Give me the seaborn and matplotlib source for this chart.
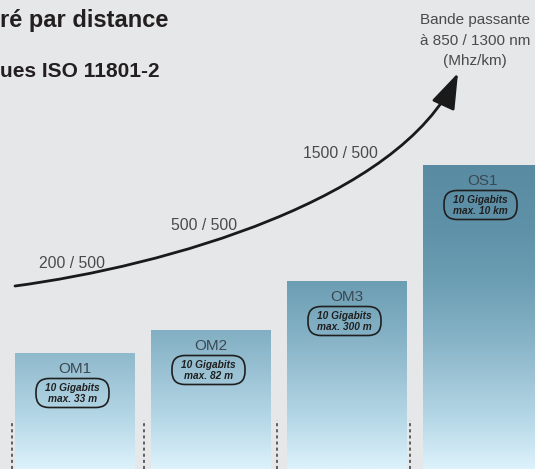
import numpy as np
import pandas as pd
import matplotlib
matplotlib.use("Agg")
import matplotlib.pyplot as plt
import seaborn as sns
from matplotlib.patches import FancyBboxPatch, FancyArrowPatch
from matplotlib.path import Path
from matplotlib.colors import LinearSegmentedColormap

# ---- data -------------------------------------------------------------
fibre_types = ["OM1", "OM2", "OM3", "OS1"]
bar_height = [116, 139, 188, 304]          # relative column height
speed_labels = ["10 Gigabits", "10 Gigabits", "10 Gigabits", "10 Gigabits"]
max_distance = ["max. 33 m", "max. 82 m", "max. 300 m", "max. 10 km"]
bandwidth_labels = ["200 / 500", "500 / 500", "1500 / 500"]
legend_lines = ["Bande passante", "à 850 / 1300 nm", "(Mhz/km)"]
title_lines = ["ré par distance", "ues ISO 11801-2"]

# ---- figure -----------------------------------------------------------
W, H = 535, 469
BG = "#e6e7e8"
sns.set_theme(style="white")
plt.rcParams["font.family"] = ["Liberation Sans", "DejaVu Sans"]

fig = plt.figure(figsize=(W / 100, H / 100), dpi=100, facecolor=BG)
ax = fig.add_axes([0, 0, 1, 1])
ax.set_facecolor(BG)

df = pd.DataFrame({"type": fibre_types, "height": bar_height})
sns.barplot(data=df, x="type", y="height", width=120 / 136,
            color="#8fb9cc", linewidth=0, ax=ax)

x_lim = (-74.5 / 136, (W - 74.5) / 136)
ax.set_xlim(*x_lim)
ax.set_ylim(0, H)

# vertical gradient fill clipped to every column
grad_cmap = LinearSegmentedColormap.from_list(
    "fibre",
    [(0.0, "#ddf2fb"), (49 / 304, "#b6d8e7"), (116 / 304, "#8fb9cc"),
     (139 / 304, "#82afc3"), (188 / 304, "#6c9eb3"), (240 / 304, "#5f92a8"),
     (1.0, "#598ba2")])
grad = np.linspace(0, 1, 256).reshape(-1, 1)
for bar in list(ax.patches):
    im = ax.imshow(grad, cmap=grad_cmap, extent=[x_lim[0], x_lim[1], 0, max(bar_height)],
                   origin="lower", aspect="auto", zorder=bar.get_zorder() + 0.1)
    im.set_clip_path(bar)

ax.set_xlim(*x_lim)
ax.set_ylim(0, H)
ax.axis("off")

# dotted separators at the foot of the columns
sep_x = [-0.46, 0.51, 1.49, 2.47]
ax.vlines(sep_x, 0, 49, colors="#3a3a3a", linestyles=(0, (2, 2)),
          linewidth=1.1, zorder=5)

# ---- overlay in pixel units for annotations ---------------------------
ov = fig.add_axes([0, 0, 1, 1])
ov.set_xlim(0, W)
ov.set_ylim(H, 0)
ov.axis("off")
ov.patch.set_alpha(0)

for i, (name, h, sp, dist) in enumerate(zip(fibre_types, bar_height,
                                            speed_labels, max_distance)):
    dx, dy = ax.transData.transform((i, h))
    cx, top = dx, H - dy
    ov.text(cx, top + 16, name, ha="center", va="center", fontsize=11,
            color="#3b4852")
    bx = cx - 2
    ov.add_patch(FancyBboxPatch((bx - 36.5, top + 40 - 14.5), 73, 29,
                                boxstyle="round,pad=0,rounding_size=13",
                                fc="none", ec="#1f1f1f", lw=1.2))
    ov.text(bx, top + 40.5, f"{sp}\n{dist}", ha="center", va="center",
            fontsize=7.3, fontweight="bold", fontstyle="italic",
            color="#1f1f1f", linespacing=1.1)

# bandwidth growth arrow
curve = Path([(15, 286), (165, 266), (400, 200), (458, 73)],
             [Path.MOVETO, Path.CURVE4, Path.CURVE4, Path.CURVE4])
ov.add_patch(FancyArrowPatch(path=curve,
                             arrowstyle="-|>,head_length=1.1,head_width=0.38",
                             mutation_scale=20, lw=2.0, color="#1a1a1a"))

for txt, (tx, ty) in zip(bandwidth_labels, [(72, 263), (204, 226), (340, 154)]):
    ov.text(tx, ty, txt, ha="center", va="center", fontsize=11.3, color="#4a4a4a")

for txt, ty in zip(legend_lines, [20, 41, 61]):
    ov.text(475, ty, txt, ha="center", va="center", fontsize=11, color="#4a4a4a")

ov.text(0, 27, title_lines[0], ha="left", va="baseline", fontsize=17,
        fontweight="bold", color="#231f20")
ov.text(0, 77, title_lines[1], ha="left", va="baseline", fontsize=15,
        fontweight="bold", color="#231f20")

fig.savefig("out.png", dpi=100, facecolor=BG)
